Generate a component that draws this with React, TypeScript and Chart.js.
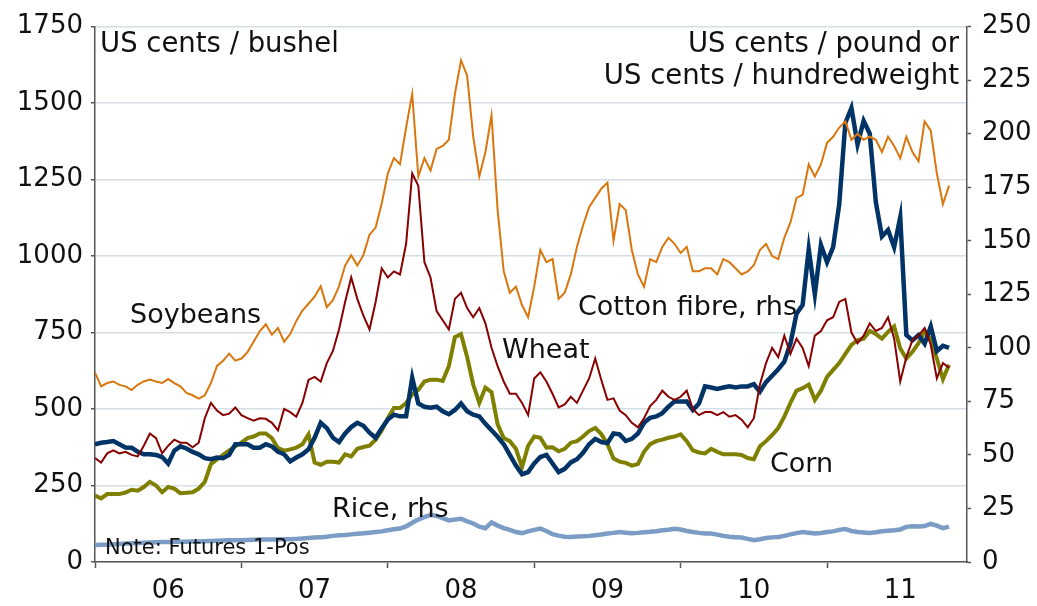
import React, { useEffect, useRef } from 'react';
import { Chart, registerables } from 'chart.js';

Chart.register(...registerables);

// Semi-monthly observations starting January 2006
const START_YEAR = 2006;
const PERIODS_PER_YEAR = 24;
const X_MAX = 2011.956;

const yearLabels = ['06', '07', '08', '09', '10', '11'];

// US cents / bushel (left axis)
const soybeans = [
  619, 574, 585, 590, 579, 574, 562, 579, 590, 596, 590, 585,
  598, 585, 574, 553, 545, 534, 545, 585, 641, 658, 681, 658,
  665, 686, 720, 754, 777, 743, 765, 720, 745, 788, 822, 844,
  867, 901, 833, 856, 901, 969, 1003, 969, 1003, 1070, 1093, 1172,
  1270, 1320, 1300, 1420, 1530, 1260, 1320, 1280, 1350, 1360, 1380, 1530,
  1640, 1590, 1390, 1260, 1340, 1460, 1150, 950, 880, 900, 840, 800,
  900, 1020, 980, 990, 860, 880, 940, 1030, 1100, 1160, 1190, 1220,
  1240, 1050, 1170, 1150, 1020, 940, 900, 990, 980, 1030, 1060, 1040,
  1010, 1030, 950, 950, 960, 960, 940, 990, 980, 960, 940, 950,
  970, 1020, 1040, 1000, 990, 1060, 1110, 1190, 1200, 1300, 1260, 1300,
  1370, 1390, 1420, 1440, 1380, 1400, 1380, 1390, 1380, 1340, 1390, 1360,
  1320, 1390, 1340, 1310, 1440, 1410, 1270, 1170, 1230,
];

const wheat = [
  340, 325, 355, 365, 355, 360, 350, 345, 380, 420, 405, 355,
  380, 400, 390, 390, 375, 390, 470, 520, 495, 480, 485, 505,
  480, 470, 462, 470, 468, 455, 430, 500, 490, 475, 520, 595,
  605, 590, 650, 690, 760, 850, 930, 860, 805, 760, 850, 960,
  930, 950, 940, 1040, 1270, 1230, 980, 930, 820, 790, 760, 860,
  880, 830, 800, 830, 780, 700, 640, 590, 550, 550, 520, 480,
  600, 620, 590, 550, 505, 515, 540, 520, 560, 600, 665, 595,
  530, 535, 495, 480, 455, 440, 470, 510, 530, 560, 540, 530,
  540, 560, 500, 480, 490, 490, 480, 490, 475, 480, 465, 440,
  470, 580, 650, 700, 670, 740, 680, 730, 700, 640, 740, 755,
  790, 800, 850, 860, 750, 715, 740, 780, 755, 765, 800, 730,
  590, 670, 725, 740, 765, 710, 600, 650, 635,
];

const corn = [
  217, 208, 222, 222, 222, 227, 236, 233, 245, 262, 250, 228,
  245, 240, 225, 226, 228, 240, 262, 320, 335, 350, 365, 378,
  390, 405, 410, 420, 420, 405, 372, 364, 368, 374, 385, 417,
  325, 318, 328, 328, 325, 352, 345, 370, 376, 380, 400, 430,
  470, 503, 503, 520, 548, 563, 590, 596, 596, 592, 640, 735,
  745, 670, 580, 520, 570, 555, 450, 405, 395, 370, 310, 380,
  410, 406, 374, 375, 362, 370, 390, 395, 410, 428, 438, 418,
  385, 338, 328, 324, 315, 320, 360, 385, 395, 400, 406, 410,
  417, 395, 365, 358, 355, 370, 360, 352, 352, 352, 350, 340,
  336, 378, 395, 415, 438, 475, 520, 560, 568, 580, 530, 560,
  605, 628, 650, 680, 710, 725, 730, 755, 745, 730, 752, 770,
  698, 665, 687, 715, 755, 725, 665, 598, 645,
];

// US cents / pound (right axis)
const cotton = [
  55, 55.7, 56, 56.5, 55, 53.5, 53.4, 51.5, 50.3, 50.3, 50, 49,
  46, 52, 54, 53, 51.4, 50.3, 48.5, 48, 48.8, 48.5, 50, 55,
  55, 55, 53.4, 53.4, 55, 54, 51.5, 50.3, 47, 48.8, 50.3, 52.6,
  58, 65, 62.5, 58, 56, 60, 63, 65, 63.6, 60.4, 58, 62.5,
  66.5, 68.8, 68, 68, 86, 74, 72.5, 72, 72.5, 70.4, 69, 71,
  74, 70.4, 68.8, 68, 64.5, 61.5, 58.5, 55, 50, 45, 41, 42,
  46, 49, 50, 46, 42, 43.5, 46.5, 48, 51, 55, 57.5, 56,
  55.5, 60, 59.6, 56.5, 57.5, 60, 65, 67.3, 68, 69.5, 72.5, 75,
  75, 75, 71, 74, 82, 81.5, 80.8, 81.5, 82, 81.5, 82, 82,
  83, 79.5, 84, 87, 90, 93.5, 102, 116, 120, 146, 125, 148,
  140, 147, 167, 205, 212, 195, 206, 200, 168, 152, 155, 147,
  161, 106, 103.5, 106, 102, 110, 98.5, 101, 100,
];

// US cents / hundredweight (right axis)
const rice = [
  7.9, 8.0, 8.1, 8.3, 8.4, 8.6, 8.8, 8.9, 9.0, 9.1, 9.2, 9.3,
  9.3, 9.4, 9.4, 9.5, 9.6, 9.6, 9.7, 9.8, 9.9, 10.0, 10.1, 10.2,
  10.2, 10.3, 10.4, 10.5, 10.5, 10.5, 10.5, 10.6, 10.6, 10.8, 11.0, 11.2,
  11.4, 11.5, 11.8, 12.2, 12.5, 12.6, 12.9, 13.2, 13.4, 13.7, 14.0, 14.3,
  14.8, 15.3, 15.6, 16.6, 18.3, 19.8, 21.0, 22.0, 21.5, 20.5, 19.4, 19.8,
  20.2, 19.0, 18.0, 16.5, 15.8, 18.5, 17.0, 15.8, 15.0, 14.0, 13.5, 14.3,
  15.0, 15.6, 14.5, 13.0, 12.3, 11.8, 11.7, 11.9, 12.0, 12.2, 12.5, 12.8,
  13.3, 13.6, 14.0, 13.7, 13.4, 13.6, 13.9, 14.1, 14.4, 14.8, 15.1, 15.5,
  15.2, 14.5, 14.0, 13.6, 13.3, 13.3, 12.8, 12.2, 11.8, 11.6, 11.4, 10.8,
  10.2, 10.6, 11.2, 11.5, 11.7, 12.2, 12.9, 13.5, 14.0, 13.7, 13.3, 13.5,
  14.0, 14.3, 15.0, 15.4, 14.5, 14.0, 13.8, 13.6, 13.9, 14.4, 14.6, 14.8,
  15.2, 16.4, 16.7, 16.6, 16.8, 17.8, 17.0, 15.8, 16.5,
];

const FONT = '"DejaVu Sans", Verdana, sans-serif';
const AXIS_COLOR = '#555555';
const GRID_COLOR = '#d6dee6';
const TEXT_COLOR = '#111111';

const toPoints = (values: number[]) =>
  values.map((v, i) => ({ x: START_YEAR + i / PERIODS_PER_YEAR, y: v }));

const annotations = [
  { text: 'US cents / bushel', x: 100, y: 52, align: 'left', size: 27.5 },
  { text: 'US cents / pound or', x: 959, y: 52, align: 'right', size: 27.5 },
  { text: 'US cents / hundredweight', x: 959, y: 84, align: 'right', size: 27.5 },
  { text: 'Soybeans', x: 130, y: 323, align: 'left', size: 27 },
  { text: 'Wheat', x: 502, y: 358, align: 'left', size: 27 },
  { text: 'Cotton fibre, rhs', x: 578, y: 315, align: 'left', size: 27 },
  { text: 'Corn', x: 770, y: 472, align: 'left', size: 27 },
  { text: 'Rice, rhs', x: 332, y: 517, align: 'left', size: 27 },
  { text: 'Note: Futures 1-Pos', x: 105, y: 554, align: 'left', size: 21 },
];

const annotationPlugin = {
  id: 'annotationText',
  afterDraw(chart: any) {
    const ctx = chart.ctx;
    ctx.save();
    ctx.fillStyle = TEXT_COLOR;
    ctx.textBaseline = 'alphabetic';
    for (const a of annotations) {
      ctx.font = `${a.size}px ${FONT}`;
      ctx.textAlign = a.align;
      ctx.fillText(a.text, a.x, a.y);
    }
    ctx.restore();
  },
};

const plainNumber = (v: any) => String(Math.round(Number(v)));

export default function App() {
  const canvasRef = useRef<HTMLCanvasElement | null>(null);

  useEffect(() => {
    if (!canvasRef.current) return;
    const line = (label: string, data: number[], color: string, width: number, axis: string, order: number) => ({
      label,
      data: toPoints(data),
      borderColor: color,
      backgroundColor: color,
      borderWidth: width,
      pointRadius: 0,
      tension: 0,
      yAxisID: axis,
      order,
      fill: false,
    });
    const chart = new Chart(canvasRef.current, {
      type: 'line',
      data: {
        datasets: [
          line('Soybeans', soybeans, '#d9760e', 2, 'y', 1),
          line('Wheat', wheat, '#880000', 2, 'y', 2),
          line('Cotton fibre, rhs', cotton, '#003366', 4.5, 'y1', 3),
          line('Corn', corn, '#7f7f00', 4, 'y', 4),
          line('Rice, rhs', rice, '#7b9cc4', 4.5, 'y1', 5),
        ],
      },
      options: {
        animation: false,
        responsive: false,
        devicePixelRatio: 1,
        layout: { padding: { top: 22, left: 0, right: 0, bottom: 0 } },
        plugins: { legend: { display: false }, tooltip: { enabled: false } },
        scales: {
          x: {
            type: 'linear',
            min: START_YEAR,
            max: X_MAX,
            afterFit: (s: any) => { s.height = 44; },
            border: { color: AXIS_COLOR, width: 1.5 },
            grid: {
              drawOnChartArea: false,
              drawTicks: true,
              tickLength: 6,
              tickWidth: 1.5,
              tickColor: (ctx: any) =>
                ctx.tick && Math.abs(ctx.tick.value - Math.round(ctx.tick.value)) < 1e-6 ? AXIS_COLOR : 'rgba(0,0,0,0)',
            },
            ticks: {
              stepSize: 0.5,
              autoSkip: false,
              maxRotation: 0,
              includeBounds: false,
              padding: 8,
              color: TEXT_COLOR,
              font: { family: FONT, size: 26 },
              callback: (v: any) => {
                const val = Number(v);
                const fl = Math.floor(val);
                if (Math.abs(val - fl - 0.5) < 1e-6) {
                  return yearLabels[fl - START_YEAR] ?? '';
                }
                return '';
              },
            },
          },
          y: {
            position: 'left',
            min: 0,
            max: 1750,
            afterFit: (s: any) => { s.width = 95; },
            border: { color: AXIS_COLOR, width: 1.5 },
            grid: { color: GRID_COLOR, lineWidth: 1.5, tickLength: 4, tickColor: AXIS_COLOR, tickWidth: 1.5 },
            ticks: {
              stepSize: 250,
              padding: 8,
              color: TEXT_COLOR,
              font: { family: FONT, size: 26 },
              callback: plainNumber,
            },
          },
          y1: {
            position: 'right',
            min: 0,
            max: 250,
            afterFit: (s: any) => { s.width = 70; },
            border: { color: AXIS_COLOR, width: 1.5 },
            grid: { drawOnChartArea: false, tickLength: 4, tickColor: AXIS_COLOR, tickWidth: 1.5 },
            ticks: {
              stepSize: 25,
              padding: 11,
              color: TEXT_COLOR,
              font: { family: FONT, size: 26 },
              callback: plainNumber,
            },
          },
        },
      },
      plugins: [annotationPlugin],
    } as any);
    return () => chart.destroy();
  }, []);

  return (
    <div style={{ position: 'fixed', left: 0, top: 0, width: 1037, height: 606, background: '#ffffff' }}>
      <canvas ref={canvasRef} width={1037} height={606} style={{ display: 'block' }} />
    </div>
  );
}
